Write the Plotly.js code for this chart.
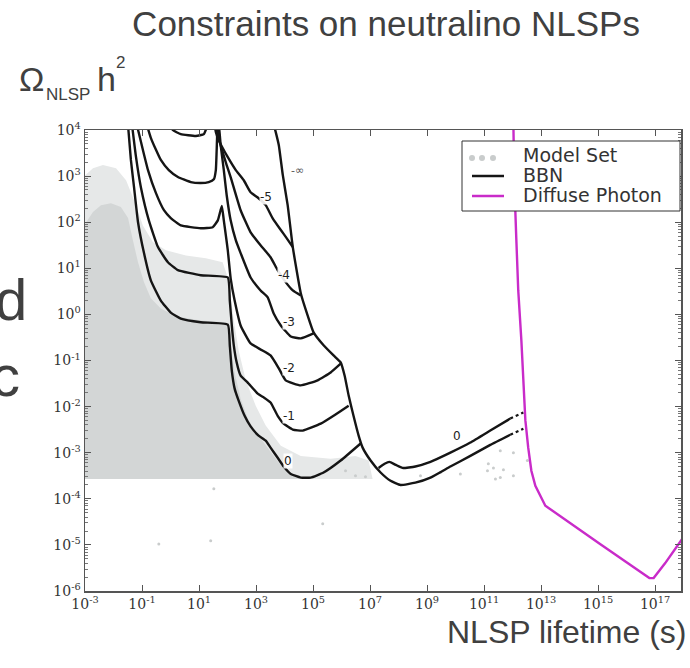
<!DOCTYPE html>
<html>
<head>
<meta charset="utf-8">
<script src="https://cdn.plot.ly/plotly-3.0.1.min.js"></script>
<style>
html,body{margin:0;padding:0;background:#fff;}
#chart{width:690px;height:668px;}
</style>
</head>
<body>
<div id="chart"></div>
<script>
// ---- Values (log10 of lifetime [s] and log10 of Omega h^2) ----
const tickExpX = [-3, -1, 1, 3, 5, 7, 9, 11, 13, 15, 17];
const tickExpY = [-6, -5, -4, -3, -2, -1, 0, 1, 2, 3, 4];

// Model set: sparse and dense envelopes of the point cloud, plus isolated points
const cloudSparse_logTau = [-3.1,-2.72,-2.37,-1.91,-1.56,-1.28,-0.97,-0.62,-0.16,0.54,1.24,1.83,2.04,2.22,2.39,2.64,2.99,3.34,3.87,4.57,5.62,6.49,6.95,7.09,-3.1];
const cloudSparse_logOmega = [2.96,3.17,3.24,3.17,2.91,2.48,1.93,1.57,1.39,1.28,1.22,1.13,0.74,-0.13,-0.78,-1.43,-1.98,-2.41,-2.85,-3.07,-3.13,-3.07,-3.17,-3.57,-3.57];
const cloudDense_logTau = [-3.1,-2.72,-2.44,-2.09,-1.74,-1.49,-1.32,-1.14,-0.93,-0.69,-0.34,0.19,1.06,1.94,2.11,2.25,2.46,2.74,3.09,3.44,3.80,4.22,4.57,-3.1];
const cloudDense_logOmega = [1.87,2.22,2.37,2.41,2.33,2.09,1.61,1.13,0.70,0.35,0.13,-0.04,-0.13,-0.17,-0.67,-1.26,-1.83,-2.30,-2.63,-2.91,-3.22,-3.48,-3.57,-3.57];
const modelPts_logTau = [-0.41,1.41,1.52,5.34,6.14,6.49,6.84,8.77,9.47,10.17,11.12,11.57,12.03,11.15,11.33,11.68,11.57,12.03,12.52,11.40];
const modelPts_logOmega = [-4.98,-4.91,-3.78,-4.54,-3.39,-3.50,-3.52,-3.50,-3.43,-3.46,-3.39,-3.54,-3.50,-3.24,-3.33,-3.37,-2.96,-3.00,-3.17,-3.57];

// BBN contours (labelled by log10 of hadronic branching ratio)
const bbn0_logTau = [-1.49,-1.39,-1.28,-1.14,-0.93,-0.69,-0.34,0.01,0.36,1.06,2.01,2.08,2.15,2.25,2.39,2.60,2.81,3.09,3.34,3.51,3.76,3.97,4.22,4.57,4.92,5.37,5.97,6.67];
const bbn0_logOmega = [4.10,3.35,2.76,2.00,1.33,0.74,0.30,0.04,-0.09,-0.17,-0.22,-0.67,-1.22,-1.61,-1.87,-2.20,-2.43,-2.63,-2.74,-2.89,-3.11,-3.30,-3.46,-3.54,-3.54,-3.43,-3.17,-2.80];
const bbnM1_logTau = [-1.35,-1.21,-1.04,-0.76,-0.44,-0.09,0.26,1.06,2.01,2.08,2.15,2.22,2.32,2.46,2.71,3.06,3.27,3.51,3.76,3.97,4.29,4.64,5.27,5.79,6.25];
const bbnM1_logOmega = [4.11,3.41,2.76,2.04,1.46,1.13,0.96,0.85,0.80,0.30,-0.24,-0.67,-1.04,-1.33,-1.48,-1.72,-1.80,-1.91,-2.20,-2.37,-2.50,-2.52,-2.37,-2.17,-1.98];
const bbnM2_logTau = [-1.18,-0.97,-0.79,-0.51,-0.23,0.01,0.36,1.06,1.48,1.66,1.80,1.87,1.94,2.01,2.11,2.25,2.46,2.81,3.16,3.51,3.80,4.04,4.57,5.16,5.62,5.97];
const bbnM2_logOmega = [4.11,3.57,3.13,2.63,2.26,2.09,1.93,1.87,1.89,2.04,2.35,2.04,1.72,1.39,0.78,0.30,-0.24,-0.63,-0.76,-0.89,-1.17,-1.43,-1.54,-1.43,-1.26,-1.07];
const bbnM3_logTau = [-0.83,-0.69,-0.51,-0.34,-0.06,0.26,0.71,1.06,1.34,1.52,1.59,1.62,1.66,1.69,1.76,1.87,1.97,2.11,2.29,2.46,2.81,3.16,3.41,3.62,3.87,4.22,4.57,5.02];
const bbnM3_logOmega = [4.11,3.83,3.57,3.35,3.13,2.98,2.87,2.85,2.87,2.93,3.13,3.57,4.11,4.11,3.67,3.13,2.59,2.04,1.61,1.33,0.80,0.52,0.37,0.02,-0.24,-0.48,-0.52,-0.41];
const bbnM4_logTau = [-0.06,0.08,0.36,0.89,1.17,1.31,1.55,1.69,1.83,1.97,2.11,2.46,2.81,3.16,3.51,3.76,4.04,4.29,4.57];
const bbnM4_logOmega = [4.17,4.00,3.91,3.87,3.91,4.11,4.22,3.83,3.52,3.24,2.98,2.26,1.78,1.50,1.24,0.96,0.70,0.52,0.41];
const bbnM5_logTau = [1.52,1.59,1.69,1.83,2.01,2.29,2.57,2.81,3.09,3.34,3.58,3.87,4.08,4.29];
const bbnM5_logOmega = [4.22,3.96,3.78,3.61,3.41,3.13,2.91,2.65,2.52,2.37,2.09,1.83,1.65,1.46];
const bbnInf_logTau = [3.58,3.69,3.80,3.94,4.11,4.29,4.57,4.81,5.02,5.37,5.72,5.97,6.11,6.25,6.42,6.60,6.74,7.02,7.37,7.72,8.07,8.59,9.12,9.82,10.52,11.22,11.92];
const bbnInf_logOmega = [4.22,3.96,3.67,3.02,2.37,1.46,0.46,-0.02,-0.39,-0.67,-0.89,-1.04,-1.33,-1.76,-2.20,-2.63,-2.89,-3.17,-3.43,-3.61,-3.70,-3.65,-3.54,-3.30,-3.07,-2.83,-2.61];
const bbn0b_logTau = [7.30,7.51,7.68,7.89,8.14,8.59,9.12,9.82,10.52,11.22,11.92];
const bbn0b_logOmega = [-3.33,-3.24,-3.20,-3.26,-3.33,-3.30,-3.20,-3.00,-2.78,-2.52,-2.26];
const dotUpper_logTau = [11.92,12.38];
const dotUpper_logOmega = [-2.26,-2.13];
const dotLower_logTau = [11.92,12.38];
const dotLower_logOmega = [-2.61,-2.48];

// Diffuse photon constraint
const photon_logTau = [12.03,12.06,12.13,12.20,12.31,12.38,12.45,12.55,12.66,12.80,12.97,13.15,15.07,16.80,16.95,17.35,18.0];
const photon_logOmega = [4.11,2.91,1.67,0.52,-0.57,-1.54,-2.30,-2.89,-3.39,-3.72,-3.93,-4.15,-4.98,-5.72,-5.72,-5.40,-4.83];

// Contour labels
const contourLabels = ['-\u221e','-5','-4','-3','-2','-1','0','0'];
const contourLabel_logTau = [4.46,3.34,3.97,4.15,4.15,4.15,4.11,10.06];
const contourLabel_logOmega = [3.13,2.54,0.85,-0.17,-1.17,-2.20,-3.17,-2.63];

// Legend entries
const legendNames = ['Model Set', 'BBN', 'Diffuse Photon'];

// ---- Build the figure ----
const pow10 = a => a.map(v => Math.pow(10, v));
const BLACK = '#151515';
const MAGENTA = '#c92bc9';
const CLOUD = '#c9cccc';
const LW = 2.4;

const traces = [];
traces.push({x: pow10(cloudSparse_logTau), y: pow10(cloudSparse_logOmega), mode: 'lines', fill: 'toself',
  fillcolor: '#e6e8e8', line: {width: 0, color: 'rgba(0,0,0,0)'}, showlegend: false, hoverinfo: 'skip'});
traces.push({x: pow10(cloudDense_logTau), y: pow10(cloudDense_logOmega), mode: 'lines', fill: 'toself',
  fillcolor: '#d3d6d6', line: {width: 0, color: 'rgba(0,0,0,0)'}, showlegend: false, hoverinfo: 'skip'});
traces.push({x: pow10(modelPts_logTau), y: pow10(modelPts_logOmega), mode: 'markers', name: legendNames[0],
  marker: {color: CLOUD, size: 3}, showlegend: false});

const bbnSets = [
  [bbn0_logTau, bbn0_logOmega], [bbnM1_logTau, bbnM1_logOmega], [bbnM2_logTau, bbnM2_logOmega],
  [bbnM3_logTau, bbnM3_logOmega], [bbnM4_logTau, bbnM4_logOmega], [bbnM5_logTau, bbnM5_logOmega],
  [bbnInf_logTau, bbnInf_logOmega], [bbn0b_logTau, bbn0b_logOmega]
];
bbnSets.forEach((s) => {
  traces.push({x: pow10(s[0]), y: pow10(s[1]), mode: 'lines', name: legendNames[1], showlegend: false,
    line: {color: BLACK, width: LW, shape: 'spline', smoothing: 0.4}});
});
[[dotUpper_logTau, dotUpper_logOmega], [dotLower_logTau, dotLower_logOmega]].forEach(s => {
  traces.push({x: pow10(s[0]), y: pow10(s[1]), mode: 'lines', showlegend: false,
    line: {color: BLACK, width: 2.2, dash: 'dot'}});
});
traces.push({x: pow10(photon_logTau), y: pow10(photon_logOmega), mode: 'lines', name: legendNames[2],
  showlegend: false, line: {color: MAGENTA, width: 2.4}});

// plot-area geometry helpers for paper positions
const L = 85, R = 681, T = 130, B = 591;
const px = v => (v - L) / (R - L);
const py = v => (B - v) / (B - T);

const annotations = contourLabels.map((t, i) => ({
  x: contourLabel_logTau[i], y: contourLabel_logOmega[i], xref: 'x', yref: 'y', text: t, showarrow: false,
  font: {family: 'DejaVu Sans', size: i === 0 ? 11 : 12, color: i === 0 ? '#555' : '#222'},
  bgcolor: 'rgba(255,255,255,0.9)', borderpad: 0
}));
const txt = (text, x, y, size, xanchor, family, color) => ({
  text, x: px(x), y: py(y), xref: 'paper', yref: 'paper', showarrow: false, xanchor: xanchor || 'left',
  yanchor: 'bottom', font: {family: family || 'Liberation Sans', size, color: color || '#404040'}, borderpad: 0
});
annotations.push(txt('\u03a9', 18, 99, 34));
annotations.push(txt('NLSP', 45, 105, 17));
annotations.push(txt('h', 96, 99, 34));
annotations.push(txt('2', 115, 73, 17));
annotations.push(txt('NLSP lifetime (s)', 687, 651, 32, 'right'));
annotations.push(txt('d', -6, 333, 58));
annotations.push(txt('c', -10, 409, 58));
// legend texts
annotations.push(txt(legendNames[0], 522, 167, 19, 'left', 'DejaVu Sans', '#333'));
annotations.push(txt(legendNames[1], 522, 187, 19, 'left', 'DejaVu Sans', '#333'));
annotations.push(txt(legendNames[2], 522, 207, 19, 'left', 'DejaVu Sans', '#333'));

// legend box and symbols (drawn on top of the plot like the reference legend)
const shapes = [
  {type: 'rect', xref: 'paper', yref: 'paper', x0: px(462), x1: px(680), y0: py(211), y1: py(141),
    line: {color: '#333', width: 1}, fillcolor: '#fff', layer: 'above'},
  {type: 'line', xref: 'paper', yref: 'paper', x0: px(472), x1: px(504), y0: py(176), y1: py(176),
    line: {color: BLACK, width: 2.5}, layer: 'above'},
  {type: 'line', xref: 'paper', yref: 'paper', x0: px(472), x1: px(504), y0: py(196), y1: py(196),
    line: {color: MAGENTA, width: 2.5}, layer: 'above'}
];
[472, 482, 493].forEach(cx => shapes.push({type: 'circle', xref: 'paper', yref: 'paper',
  x0: px(cx - 3), x1: px(cx + 3), y0: py(161), y1: py(155), fillcolor: CLOUD, line: {width: 0}, layer: 'above'}));

const tickFont = {family: 'DejaVu Serif', size: 14, color: '#333'};
const layout = {
  width: 690, height: 668,
  margin: {l: L, r: 690 - R, t: T, b: 668 - B, pad: 0},
  paper_bgcolor: '#fff', plot_bgcolor: '#fff',
  title: {text: 'Constraints on neutralino NLSPs', x: 386 / 690, xref: 'container', xanchor: 'center',
    y: 1 - 24 / 668, yref: 'container', yanchor: 'middle',
    font: {family: 'Liberation Sans', size: 35, color: '#404040'}},
  xaxis: {type: 'log', range: [-3, 17.91], showgrid: false, zeroline: false,
    tickmode: 'array', tickvals: pow10(tickExpX), ticktext: tickExpX.map(e => '10<sup>' + e + '</sup>'),
    ticks: 'inside', ticklen: 6, tickwidth: 1, tickcolor: '#555', mirror: 'ticks',
    showline: true, linecolor: '#555', linewidth: 1.5, tickfont: tickFont},
  yaxis: {type: 'log', range: [-6, 4], showgrid: false, zeroline: false,
    tickmode: 'array', tickvals: pow10(tickExpY), ticktext: tickExpY.map(e => '10<sup>' + e + '</sup>'),
    ticks: 'inside', ticklen: 6, tickwidth: 1, tickcolor: '#555', mirror: 'ticks',
    minor: {ticks: 'inside', ticklen: 3, tickcolor: '#777', dtick: 'D1', showgrid: false},
    showline: true, linecolor: '#555', linewidth: 1.5, tickfont: tickFont},
  showlegend: false,
  shapes,
  annotations
};

Plotly.newPlot('chart', traces, layout, {staticPlot: true, displayModeBar: false});
</script>
</body>
</html>
